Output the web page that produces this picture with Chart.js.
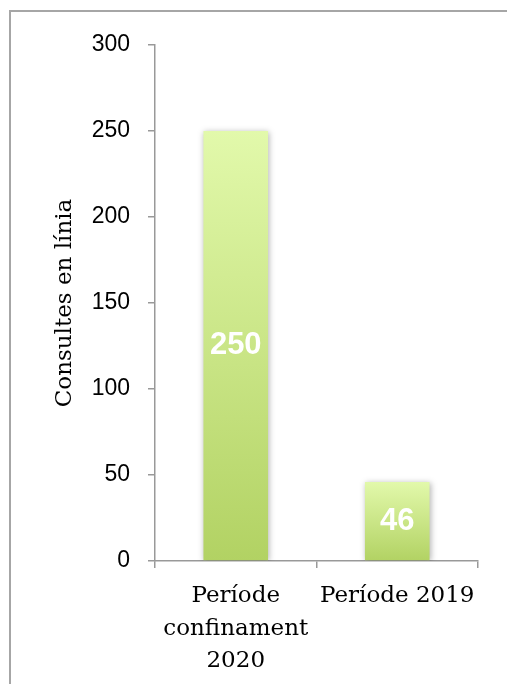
<!DOCTYPE html>
<html>
<head>
<meta charset="utf-8">
<script src="https://cdn.jsdelivr.net/npm/chart.js@4.4.0/dist/chart.umd.min.js"></script>
<style>
  html, body { margin: 0; background: #fff; overflow: hidden; }
  #wrap { position: absolute; left: 0; top: 0; width: 507px; height: 684px; }
</style>
</head>
<body>
<div id="wrap"><canvas id="consultesChart"></canvas></div>
<script>
'use strict';

let categories = [['Període', 'confinament', '2020'], 'Període 2019'];
let consultes = [250, 46];
let yTicks = [0, 50, 100, 150, 200, 250, 300];

let serifFont = 'DejaVu Serif';

function barGradient(context) {
  let chart = context.chart;
  let yScale = chart.scales.y;
  if (!yScale || !chart.chartArea) {
    return '#c8e585';
  }
  let value = consultes[context.dataIndex];
  let top = yScale.getPixelForValue(value);
  let bottom = yScale.getPixelForValue(0);
  let gradient = chart.ctx.createLinearGradient(0, top, 0, bottom);
  gradient.addColorStop(0, '#e2f9ab');
  gradient.addColorStop(1, '#b2d263');
  return gradient;
}

// grey frame on the left and top edge of the picture
let frameLines = {
  id: 'frameLines',
  beforeDraw(chart) {
    let ctx = chart.ctx;
    ctx.save();
    ctx.strokeStyle = '#a6a6a6';
    ctx.lineWidth = 2;
    ctx.beginPath();
    ctx.moveTo(10, chart.height);
    ctx.lineTo(10, 11);
    ctx.lineTo(chart.width, 11);
    ctx.stroke();
    ctx.restore();
  }
};

// soft shadow behind bars
let barShadow = {
  id: 'barShadow',
  beforeDatasetDraw(chart) {
    let ctx = chart.ctx;
    ctx.save();
    ctx.shadowColor = 'rgba(0, 0, 0, 0.3)';
    ctx.shadowBlur = 6;
    ctx.shadowOffsetX = 1;
    ctx.shadowOffsetY = 1;
  },
  afterDatasetDraw(chart) {
    chart.ctx.restore();
  }
};

// white value labels in the middle of each bar
let barValues = {
  id: 'barValues',
  afterDatasetsDraw(chart) {
    let ctx = chart.ctx;
    let meta = chart.getDatasetMeta(0);
    ctx.save();
    ctx.fillStyle = '#ffffff';
    ctx.font = 'bold 31px "Liberation Sans", Arial, sans-serif';
    ctx.textAlign = 'center';
    ctx.textBaseline = 'middle';
    for (let i = 0; i < meta.data.length; i++) {
      let bar = meta.data[i];
      let mid = (bar.y + bar.base) / 2;
      ctx.fillText(String(consultes[i]), bar.x, mid);
    }
    ctx.restore();
  }
};

let config = {
  type: 'bar',
  data: {
    labels: categories,
    datasets: [
      {
        label: 'Consultes en línia',
        data: consultes,
        backgroundColor: barGradient,
        borderWidth: 0,
        barPercentage: 0.4,
        categoryPercentage: 1
      }
    ]
  },
  options: {
    responsive: true,
    maintainAspectRatio: false,
    animation: false,
    devicePixelRatio: 1,
    layout: {
      padding: { top: 45, right: 29, bottom: 0, left: 0 }
    },
    plugins: {
      legend: { display: false },
      tooltip: { enabled: false }
    },
    scales: {
      x: {
        grid: {
          offset: true,
          drawOnChartArea: false,
          tickLength: 7,
          color: '#999999',
          lineWidth: 1.5
        },
        border: { color: '#999999', width: 1.5 },
        ticks: {
          color: '#000000',
          padding: 12,
          maxRotation: 0,
          font: { family: serifFont, size: 23, lineHeight: 1.41 }
        },
        afterFit(scale) {
          scale.height = 123;
        }
      },
      y: {
        min: 0,
        max: 300,
        afterBuildTicks(scale) {
          scale.ticks = yTicks.map(v => ({ value: v }));
        },
        grid: {
          drawOnChartArea: false,
          tickLength: 7,
          color: '#999999',
          lineWidth: 1.5
        },
        border: { color: '#999999', width: 1.5 },
        ticks: {
          color: '#000000',
          padding: 18,
          font: { family: '"Liberation Sans", Arial, sans-serif', size: 23 }
        },
        title: {
          display: true,
          text: 'Consultes en línia',
          color: '#000000',
          padding: { top: 51, bottom: 0 },
          font: { family: serifFont, size: 23, lineHeight: 1.2 }
        },
        afterFit(scale) {
          scale.width = 155;
        }
      }
    }
  },
  plugins: [frameLines, barShadow, barValues]
};

let consultesChart = new Chart(document.getElementById('consultesChart'), config);
</script>
</body>
</html>
